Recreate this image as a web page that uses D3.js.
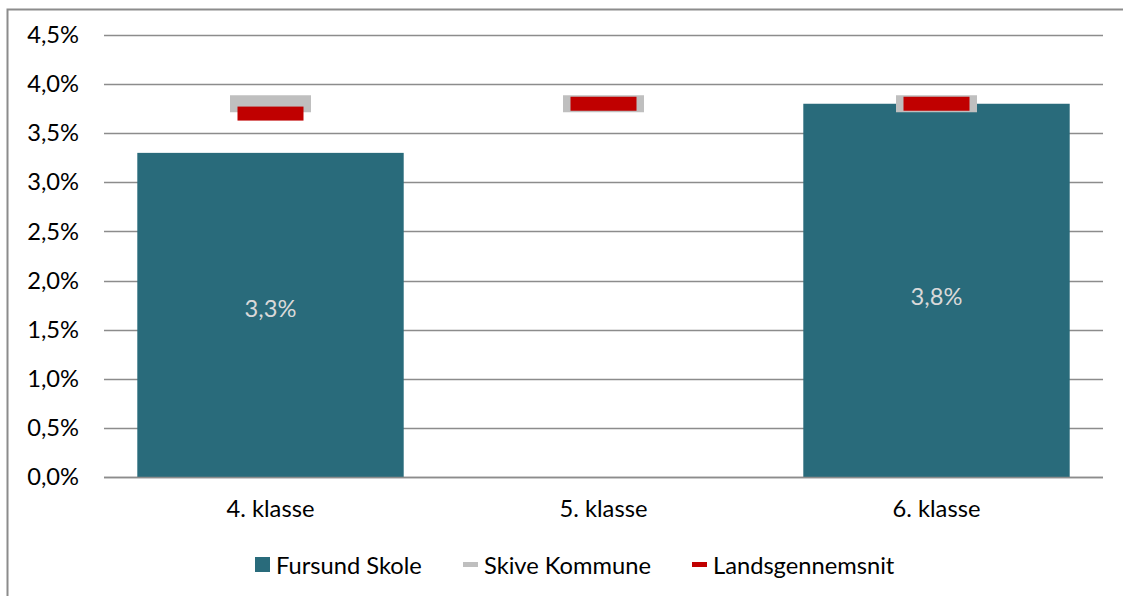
<!DOCTYPE html>
<html><head><meta charset="utf-8">
<script src="https://cdn.jsdelivr.net/npm/d3@7"></script>
<style>
html,body{margin:0;padding:0;background:#fff;overflow:hidden;}
svg{display:block;font-family:Lato,"Open Sans",sans-serif;}
</style></head>
<body>
<svg id="chart" width="1123" height="596"></svg>
<script>
const categories = ["4. klasse", "5. klasse", "6. klasse"];
const fursund = [3.3, null, 3.8];
const skive = [3.8, 3.8, 3.8];
const lands = [3.7, 3.8, 3.8];
const yTicks = [0, 0.5, 1.0, 1.5, 2.0, 2.5, 3.0, 3.5, 4.0, 4.5];
const seriesNames = ["Fursund Skole", "Skive Kommune", "Landsgennemsnit"];
const colors = {bar: "#296b7b", skive: "#bfbfbf", lands: "#c00000"};

const svg = d3.select("#chart");
const fmt = v => v.toFixed(1).replace(".", ",") + "%";
const FS = 23.7;

// outer frame
svg.append("rect").attr("x", 7.5).attr("y", 9.5).attr("width", 1200).attr("height", 700)
  .attr("fill", "#fff").attr("stroke", "#8c8c8c").attr("stroke-width", 2);

const pLeft = 104, pRight = 1103, pTop = 35, pBottom = 477;
const x = d3.scaleBand().domain(categories).range([pLeft, pRight]).paddingInner(0.2).paddingOuter(0.1);
const y = d3.scaleLinear().domain([0, 4.5]).range([pBottom, pTop]);

// gridlines
svg.append("g").selectAll("line").data(yTicks).join("line")
  .attr("x1", pLeft).attr("x2", pRight)
  .attr("y1", d => Math.round(y(d)) + 0.5).attr("y2", d => Math.round(y(d)) + 0.5)
  .attr("stroke", "#8c8c8c").attr("stroke-width", 1.6);

// y axis labels
const yAxis = svg.append("g").attr("transform", `translate(${pLeft},0)`)
  .call(d3.axisLeft(y).tickValues(yTicks).tickFormat(fmt).tickSize(0).tickPadding(25));
yAxis.select(".domain").remove();
yAxis.selectAll("text").attr("font-size", FS).attr("fill", "#000").attr("font-family", "Lato");

// bars
const barData = categories.map((c, i) => ({c, v: fursund[i]})).filter(d => d.v != null);
svg.append("g").selectAll("rect").data(barData).join("rect")
  .attr("x", d => x(d.c)).attr("width", x.bandwidth())
  .attr("y", d => y(d.v)).attr("height", d => y(0) - y(d.v))
  .attr("fill", colors.bar);

// value labels
svg.append("g").selectAll("text").data(barData).join("text")
  .attr("x", d => x(d.c) + x.bandwidth() / 2)
  .attr("y", d => (y(d.v) + y(0)) / 2 + (d.v < 3.5 ? -7 : 6))
  .attr("text-anchor", "middle").attr("dominant-baseline", "central")
  .attr("font-size", FS).attr("fill", "#d9d9d9").text(d => fmt(d.v));

// x axis baseline
svg.append("line").attr("x1", pLeft).attr("x2", pRight).attr("y1", Math.round(y(0)) + 0.5).attr("y2", Math.round(y(0)) + 0.5)
  .attr("stroke", "#8c8c8c").attr("stroke-width", 1.6);

// x axis labels
const xAxis = svg.append("g").attr("transform", `translate(0,${pBottom})`)
  .call(d3.axisBottom(x).tickSize(0).tickPadding(23));
xAxis.select(".domain").remove();
xAxis.selectAll("text").attr("font-size", FS).attr("fill", "#000").attr("font-family", "Lato");

// markers: Skive (grey) and Landsgennemsnit (red)
const cx = c => x(c) + x.bandwidth() / 2;
svg.append("g").selectAll("rect").data(categories.map((c, i) => ({c, v: skive[i]}))).join("rect")
  .attr("x", d => cx(d.c) - 40.5).attr("width", 81)
  .attr("y", d => y(d.v) - 8.5).attr("height", 17).attr("fill", colors.skive);
svg.append("g").selectAll("rect").data(categories.map((c, i) => ({c, v: lands[i]}))).join("rect")
  .attr("x", d => cx(d.c) - 33).attr("width", 66)
  .attr("y", d => y(d.v) - 7).attr("height", 14).attr("fill", colors.lands);

// legend
const legendItems = [
  {name: seriesNames[0], x: 255, type: "box", color: colors.bar},
  {name: seriesNames[1], x: 463, type: "line", color: colors.skive},
  {name: seriesNames[2], x: 692, type: "line", color: colors.lands}
];
const lg = svg.append("g").selectAll("g").data(legendItems).join("g")
  .attr("transform", d => `translate(${d.x},564)`);
lg.filter(d => d.type === "box").append("rect").attr("x", 0).attr("y", -7).attr("width", 15).attr("height", 15).attr("fill", d => d.color);
lg.filter(d => d.type === "line").append("rect").attr("x", 0).attr("y", -2).attr("width", 15).attr("height", 5).attr("fill", d => d.color);
lg.append("text").attr("x", 21).attr("y", 1).attr("dominant-baseline", "central")
  .attr("font-size", FS).attr("fill", "#000").text(d => d.name);
</script>
</body></html>
